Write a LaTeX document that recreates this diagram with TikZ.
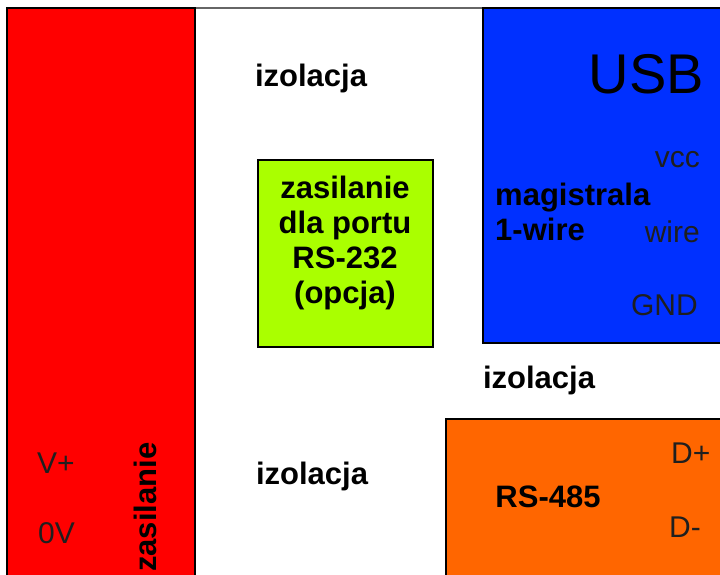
\documentclass[tikz,border=0pt]{standalone}
\usepackage{fontspec}
\setmainfont{Liberation Sans}
\usetikzlibrary{positioning}

\definecolor{czerwony}{RGB}{255,0,0}
\definecolor{niebieski}{RGB}{0,48,255}
\definecolor{pomarancz}{RGB}{255,102,0}
\definecolor{zielony}{RGB}{170,255,0}

\tikzset{
	blok/.style={draw=black, line width=1.3pt, inner sep=0pt, outer sep=0pt, anchor=north west},
	napis/.style={font=\fontsize{31}{35}\selectfont\bfseries, inner sep=0pt},
	pin/.style={font=\fontsize{30}{30}\selectfont, text=black!88, inner sep=0pt}
}

\begin{document}
\begin{tikzpicture}[x=1pt,y=-1pt]
	\useasboundingbox (0,0) rectangle (720,574);
	\clip (0,0) rectangle (720,574);
	%    ramka
	\draw[black!60, line width=1.8pt] (7,8) rectangle (760,620);

	% bloki
	\node[blok, fill=czerwony, minimum width=188pt, minimum height=600pt] (zasil) at (7,8) {};
	\node[blok, fill=zielony, minimum width=175pt, minimum height=187pt] (rs232) at (258,160) {};
	\node[blok, fill=niebieski, minimum width=260pt, minimum height=335pt] (usb) at (483,8) {};
	\node[blok, fill=pomarancz, minimum width=300pt, minimum height=200pt] (rs485) at (446,419) {};

	% izolacje
	\node[napis, anchor=base] (izo1) at (311,86) {izolacja};
	\node[napis, anchor=base] (izo2) at (539,388) {izolacja};
	\node[napis, anchor=base] (izo3) at (312,484) {izolacja};

	% zasilanie
	\node[pin, anchor=base west] (vplus) at (37,473) {V+};
	\node[pin, anchor=base west] (zero) at (38,543) {0V};
	\node[napis, anchor=base west, rotate=90] (zasiltxt) at (156,572) {zasilanie};

	% RS-232
	\node[napis, align=center] (rs232txt) at (345,243) {zasilanie\\dla portu\\RS-232\\(opcja)};

	% USB
	\node[anchor=base east, inner sep=0pt, font=\fontsize{56}{56}\selectfont] (usbtxt) at (704,93) {USB};
	\node[pin, anchor=base east] (vcc) at (700,167) {vcc};
	\node[pin, anchor=base east] (wire) at (700,242) {wire};
	\node[pin, anchor=base east] (gnd) at (698,315) {GND};
	\node[napis, anchor=base west] (mag) at (495,205) {magistrala};
	\node[napis, anchor=base west] (onew) at (495,240) {1-wire};

	% RS-485
	\node[napis, anchor=base] (rs485txt) at (548,507) {RS-485};
	\node[pin, anchor=base west] (dplus) at (671,463) {D+};
	\node[pin, anchor=base west] (dminus) at (669,537) {D-};
\end{tikzpicture}
\end{document}
